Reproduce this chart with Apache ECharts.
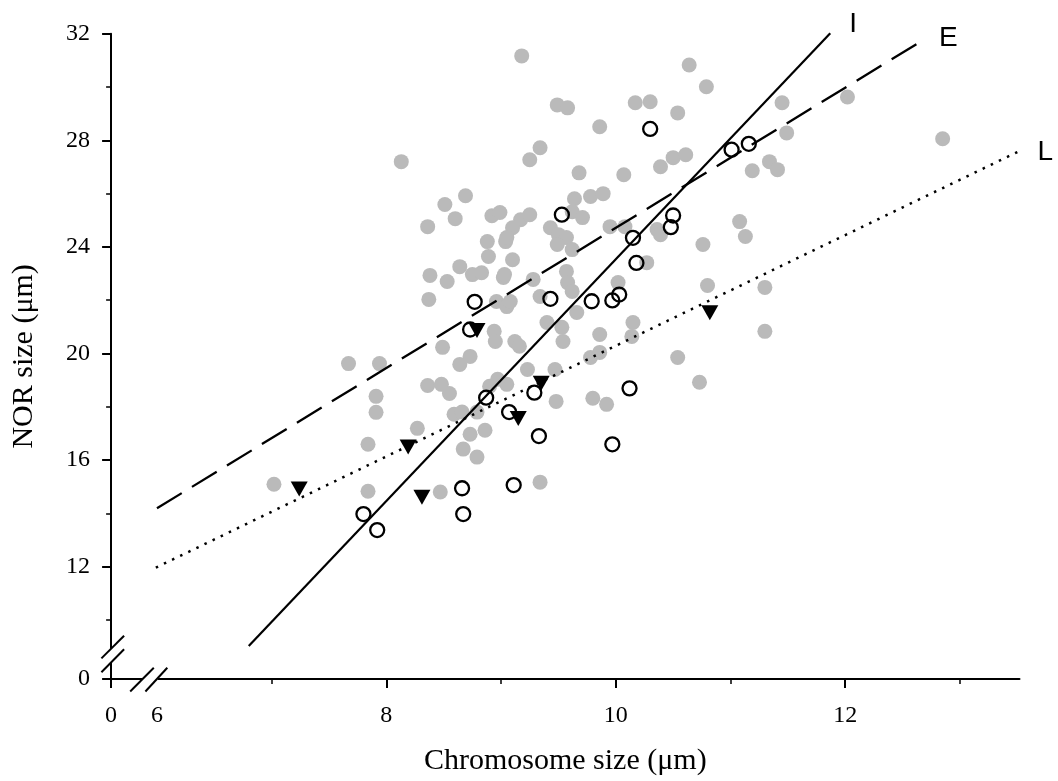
<!DOCTYPE html>
<html>
<head>
<meta charset="utf-8">
<script src="https://cdn.jsdelivr.net/npm/echarts@6/dist/echarts.min.js"></script>
<style>
html,body{margin:0;padding:0;background:#fff;}
#chart{width:1058px;height:781px;}
</style>
</head>
<body>
<div id="chart"></div>
<script>
// ---- axis ranges (broken axes: the minimum stands for 0) ----
const X_MIN = 5.6, X_MAX = 13.52;
const Y_MIN = 7.78, Y_MAX = 32;

// ---- tick / label values ----
const xLabelValues = [X_MIN, 6, 8, 10, 12];
const xMajorTicks = [X_MIN, 8, 10, 12];
const xMinorTicks = [7, 9, 11, 13];
const yLabelValues = [Y_MIN, 12, 16, 20, 24, 28, 32];
const yMajorTicks = [Y_MIN, 12, 16, 20, 24, 28, 32];
const yMinorTicks = [10, 14, 18, 22, 26, 30];

// ---- data: [chromosome size, NOR size] ----
const grayPoints = [
 [9.18,31.17],[8.13,27.20],[10.64,30.83],[10.79,30.01],[9.49,29.33],[9.58,29.22],[9.86,28.51],
 [10.17,29.41],[10.30,29.45],[10.54,29.03],[9.34,27.72],[9.25,27.27],[9.68,26.78],[10.07,26.71],
 [10.39,27.01],[10.50,27.35],[10.61,27.46],[11.19,26.86],[11.34,27.20],[11.41,26.90],[11.45,29.41],
 [12.02,29.63],[11.49,28.28],[12.85,28.06],[8.69,25.92],[9.64,25.81],[9.78,25.89],[9.89,26.00],
 [8.51,25.59],[8.60,25.06],[8.36,24.76],[8.92,25.17],[8.99,25.29],[8.88,24.20],[8.89,23.64],
 [9.04,24.20],[8.64,23.26],[8.75,22.96],[8.83,23.03],[8.38,22.93],[8.53,22.70],[9.02,22.85],
 [8.37,22.03],[8.96,21.95],[9.05,21.76],[8.94,20.83],[8.95,20.45],[8.49,20.23],[8.73,19.89],
 [8.64,19.59],[7.67,19.62],[7.94,19.62],[9.17,25.02],[9.25,25.21],[9.10,24.72],[9.05,24.35],
 [9.62,25.32],[9.71,25.10],[9.43,24.72],[9.50,24.46],[9.57,24.35],[9.49,24.09],[9.62,23.90],
 [9.95,24.76],[10.08,24.76],[10.36,24.65],[10.39,24.46],[10.76,24.09],[11.08,24.95],[11.13,24.39],
 [9.10,23.52],[9.03,22.96],[9.28,22.78],[9.57,23.08],[9.58,22.66],[9.62,22.33],[9.08,21.95],
 [9.34,22.14],[9.66,21.54],[10.02,22.66],[10.27,23.41],[10.80,22.55],[9.40,21.16],[9.53,20.98],
 [9.54,20.45],[9.86,20.71],[10.15,21.16],[10.14,20.64],[9.12,20.45],[9.16,20.27],[9.78,19.85],
 [9.86,20.04],[9.47,19.40],[9.23,19.40],[10.54,19.85],[11.30,22.48],[11.30,20.83],[9.05,18.84],
 [9.48,18.20],[9.80,18.32],[9.92,18.09],[10.73,18.92],[9.34,15.17],[8.36,18.80],[8.48,18.84],
 [8.55,18.50],[7.91,18.39],[7.91,17.79],[7.84,16.59],[7.84,14.83],[8.27,17.19],[8.59,17.72],
 [8.66,17.80],[8.73,16.97],[8.67,16.41],[8.79,16.11],[8.86,17.12],[8.79,17.80],[8.97,19.03],
 [7.02,15.09],[8.90,18.77],[8.47,14.80]
];
const openCircles = [
 [10.30,28.43],[11.01,27.65],[11.16,27.87],[9.53,25.21],[10.50,25.18],[10.48,24.74],[10.15,24.34],
 [10.18,23.40],[9.43,22.05],[9.79,21.96],[9.97,21.99],[10.03,22.21],[8.77,21.94],[8.73,20.90],
 [8.87,18.34],[9.07,17.80],[9.29,18.53],[10.12,18.69],[9.33,16.90],[9.97,16.59],[9.11,15.06],
 [8.66,14.94],[8.67,13.97],[7.80,13.97],[7.92,13.37]
];
const triangles = [
 [7.24,14.91],[8.19,16.49],[8.31,14.60],[8.79,20.86],[9.35,18.88],[9.15,17.56],[10.82,21.53]
];
// regression lines
const lineI = [[6.80,9.02],[11.87,32.02]];
const lineE = [[6.00,14.19],[12.67,31.74]];
const lineL = [[5.99,11.96],[13.52,27.60]];
const lineNames = ['I','E','L'];

const SERIF = "'Liberation Serif','Times New Roman',serif";
const SANS = "'Liberation Sans',Arial,sans-serif";

const chart = echarts.init(document.getElementById('chart'), null, {renderer:'canvas'});

const zeroFmt = (minV) => (v) => (Math.abs(v - minV) < 1e-6 ? '0' : String(v));

const option = {
  animation: false,
  backgroundColor: '#fff',
  textStyle: {fontFamily: SERIF, color: '#000'},
  grid: {left: 111.1, right: 38.5, top: 33.8, bottom: 100.8, containLabel: false},
  xAxis: [
    {
      type: 'value', min: X_MIN, max: X_MAX, position: 'bottom',
      name: 'Chromosome size (μm)', nameLocation: 'middle', nameGap: 67,
      nameTextStyle: {fontFamily: SERIF, fontSize: 30, color: '#000'},
      axisLine: {show: true, onZero: false, lineStyle: {color: '#000', width: 2}},
      axisTick: {show: true, customValues: xMajorTicks, length: 9, lineStyle: {color: '#000', width: 2}},
      axisLabel: {customValues: xLabelValues, formatter: zeroFmt(X_MIN), margin: 25,
                  fontFamily: SERIF, fontSize: 24, color: '#000'},
      splitLine: {show: false}
    },
    {
      type: 'value', min: X_MIN, max: X_MAX, position: 'bottom',
      axisLine: {show: false},
      axisTick: {show: true, customValues: xMinorTicks, length: 5, lineStyle: {color: '#000', width: 1.5}},
      axisLabel: {show: false}, splitLine: {show: false}
    }
  ],
  yAxis: [
    {
      type: 'value', min: Y_MIN, max: Y_MAX, position: 'left',
      name: 'NOR size (μm)', nameLocation: 'middle', nameGap: 72,
      nameTextStyle: {fontFamily: SERIF, fontSize: 30, color: '#000'},
      axisLine: {show: true, onZero: false, lineStyle: {color: '#000', width: 2}},
      axisTick: {show: true, customValues: yMajorTicks, length: 9, lineStyle: {color: '#000', width: 2}},
      axisLabel: {customValues: yLabelValues, formatter: zeroFmt(Y_MIN), margin: 21,
                  fontFamily: SERIF, fontSize: 24, color: '#000'},
      splitLine: {show: false}
    },
    {
      type: 'value', min: Y_MIN, max: Y_MAX, position: 'left',
      axisLine: {show: false},
      axisTick: {show: true, customValues: yMinorTicks, length: 5, lineStyle: {color: '#000', width: 1.5}},
      axisLabel: {show: false}, splitLine: {show: false}
    }
  ],
  series: [
    {
      name: 'gray', type: 'scatter', data: grayPoints, symbol: 'circle', symbolSize: 15,
      itemStyle: {color: '#bababa', opacity: 1}, z: 1, silent: true
    },
    {
      name: 'I', type: 'line', data: lineI, symbol: 'none', showSymbol: false, clip: false,
      lineStyle: {color: '#000', width: 2.2, type: 'solid'}, z: 3, silent: true
    },
    {
      name: 'E', type: 'line', data: lineE, symbol: 'none', showSymbol: false, clip: false,
      lineStyle: {color: '#000', width: 2.3, type: [29, 12]}, z: 3, silent: true
    },
    {
      name: 'L', type: 'line', data: lineL, symbol: 'none', showSymbol: false, clip: false,
      lineStyle: {color: '#000', width: 2.5, type: [2.5, 6.5]}, z: 3, silent: true
    },
    {
      name: 'open', type: 'scatter', data: openCircles, symbol: 'circle', symbolSize: 14,
      itemStyle: {color: 'rgba(0,0,0,0)', borderColor: '#000', borderWidth: 2.3, opacity: 1}, z: 4, silent: true
    },
    {
      name: 'tri', type: 'scatter', data: triangles, symbol: 'triangle', symbolRotate: 180,
      symbolSize: [17, 15], itemStyle: {color: '#000', opacity: 1}, z: 5, silent: true
    }
  ]
};
chart.setOption(option);

// ---- decorations: axis-break marks and line labels, placed from the axis scales ----
const O = chart.convertToPixel({gridIndex: 0}, [X_MIN, Y_MIN]);
const endI = chart.convertToPixel({gridIndex: 0}, lineI[1]);
const endE = chart.convertToPixel({gridIndex: 0}, lineE[1]);
const endL = chart.convertToPixel({gridIndex: 0}, lineL[1]);

function slash(x1, y1, x2, y2) {
  return {type: 'line', z: 101, shape: {x1, y1, x2, y2}, style: {stroke: '#000', lineWidth: 2}, silent: true};
}
function label(text, p, dx, dy) {
  return {type: 'text', z: 102, silent: true,
          style: {text, x: p[0] + dx, y: p[1] + dy, fill: '#000', fontFamily: SANS, fontSize: 28,
                  align: 'left', verticalAlign: 'middle'}};
}

chart.setOption({
  graphic: [
    // gap in the y axis
    {type: 'rect', z: 100, silent: true, shape: {x: O[0] - 3, y: O[1] - 30.3, width: 6, height: 13.8}, style: {fill: '#fff'}},
    slash(O[0] - 9.7, O[1] - 20.6, O[0] + 13, O[1] - 43.3),
    slash(O[0] - 9.7, O[1] - 6.8, O[0] + 13, O[1] - 29.7),
    // gap in the x axis
    {type: 'rect', z: 100, silent: true, shape: {x: O[0] + 31.6, y: O[1] - 3, width: 15.2, height: 6}, style: {fill: '#fff'}},
    slash(O[0] + 19.1, O[1] + 12.5, O[0] + 42.7, O[1] - 11.2),
    slash(O[0] + 34.3, O[1] + 12.5, O[0] + 56.2, O[1] - 11.2),
    // line labels
    label(lineNames[0], endI, 19, -9),
    label(lineNames[1], endE, 17, -2.7),
    label(lineNames[2], endL, 18, 1)
  ]
});
</script>
</body>
</html>
